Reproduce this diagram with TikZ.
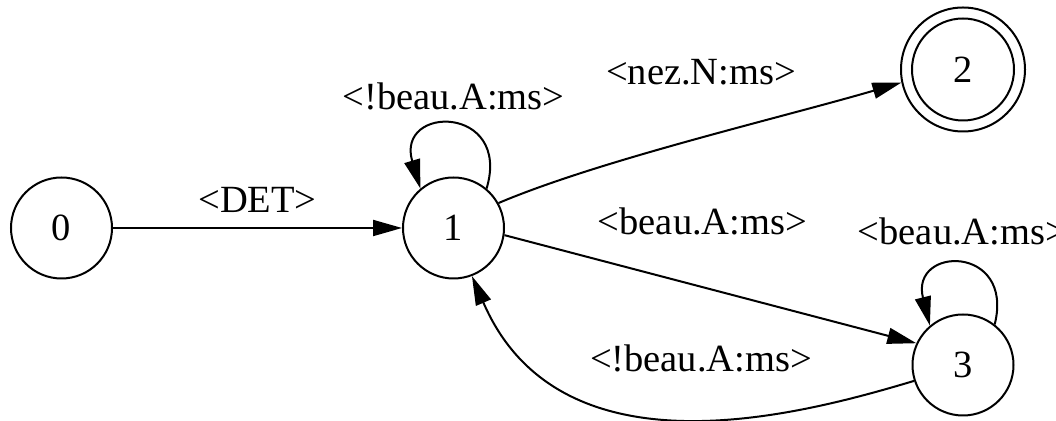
\documentclass[tikz,border=0pt]{standalone}
\usepackage{fontspec}
\setmainfont{Liberation Serif}
\usetikzlibrary{%
	arrows.meta%
}

\begin{document}
\begin{tikzpicture}[x=0.5pt,y=-0.5pt,>={Triangle[length=14.5pt,width=8pt]},line width=1pt,
	font=\fontsize{19.25pt}{23pt}\selectfont,
	state/.style={draw,circle,minimum size=50.5pt,inner sep=0pt},
	lab/.style={anchor=base,inner sep=0pt}]
				% TikZ code for the automaton
				\useasboundingbox (0,0) rectangle (1056,421);
				\clip (0,0) rectangle (1056,421);
				\node[state] (s0) at (61.5,228) {0};
				\node[state] (s1) at (453.5,228) {1};
				\node[state,minimum size=62pt] (s2) at (963,69.5) {2};
				\draw (s2.center) circle (25.5pt);
				\node[state] (s3) at (963,365) {3};
				\draw[->] (s0) -- (s1);
				\draw[->] (s1.50) .. controls +(25,-84) and +(-25,-84) .. (s1.130);
				\draw[->] (s1.29) .. controls (600,160) and (780,118) .. (s2.192);
				\draw[->] (s1.-8) -- (s3.155);
				\draw[->] (s3.198) .. controls (800,415) and (560,480) .. (s1.-69);
				\draw[->] (s3.52) .. controls +(20,-80) and +(-20,-80) .. (s3.130);
				\node[lab] (l01) at (257.5,213) {<DET>};
				\node[lab] (l11) at (453.5,110) {<!beau.A:ms>};
				\node[lab] (l12) at (701,85) {<nez.N:ms>};
				\node[lab] (l13) at (702.5,235) {<beau.A:ms>};
				\node[lab] (l31) at (701,372) {<!beau.A:ms>};
				\node[lab] (l33) at (962.5,245) {<beau.A:ms>};
			\end{tikzpicture}
\end{document}
